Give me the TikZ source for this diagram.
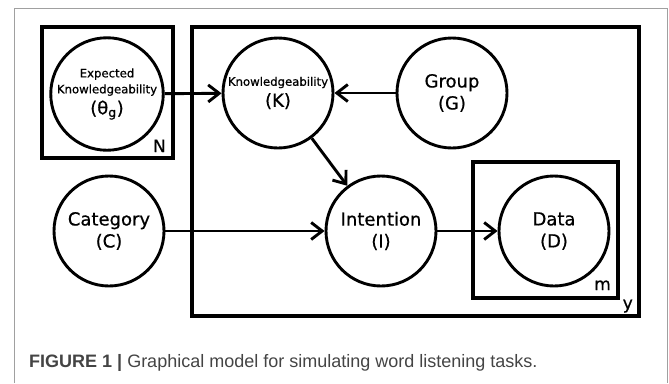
\documentclass[tikz,border=0pt]{standalone}
\usepackage{fontspec}
\setmainfont{DejaVu Sans}
\newfontfamily\medfont[FakeBold=0.7]{DejaVu Sans}
\newfontfamily\capfont{Liberation Sans}
\usetikzlibrary{positioning,arrows.meta}
\definecolor{capgray}{HTML}{444444}
\definecolor{framegray}{HTML}{A0A0A0}
\newcommand\smalltxt{\fontsize{11.7}{15}\selectfont\medfont}

\begin{document}
\begin{tikzpicture}[
  x=1pt, y=-1pt,
  varnode/.style={draw,circle,line width=2.9pt,minimum size=110pt,inner sep=0pt,align=center,font=\fontsize{18}{22}\selectfont\medfont},
  plate/.style={draw,line width=3.6pt},
  platelabel/.style={anchor=base east,inner sep=0pt,font=\fontsize{17}{17}\selectfont\medfont},
  myarrow/.style={line width=2.9pt,-{Straight Barb[length=11pt,width=17pt]}}
]
\useasboundingbox (0,0) rectangle (669,383);
\draw[framegray,line width=1pt] (14,383) -- (14,8) -- (667,8) -- (667,383);

% plates
\draw[plate] (42,27) rectangle (173,158);
\draw[plate] (192,27) rectangle (639,316);
\draw[plate] (473,162) rectangle (618,298);
\node[platelabel] (N) at (166,152) {N};
\node[platelabel] (y) at (633,309) {y};
\node[platelabel] (m) at (611,290) {m};

% variables
\node[varnode] (E) at (107,94) {\smalltxt Expected\\[-6pt]\smalltxt Knowledgeability\\[-1pt](θ\textsubscript{g})};
\node[varnode] (K) at (278,93) {\smalltxt Knowledgeability\\[-1pt](K)};
\node[varnode] (G) at (452,93) {Group\\(G)};
\node[varnode] (C) at (109,231) {Category\\(C)};
\node[varnode] (I) at (381,231) {Intention\\(I)};
\node[varnode] (D) at (554,231) {Data\\(D)};

\path (E) edge[myarrow] (K);
\path (G) edge[myarrow] (K);
\path (K) edge[myarrow] (I);
\path (C) edge[myarrow] (I);
\path (I) edge[myarrow] (D);

\node[anchor=base west,inner sep=0pt,text=capgray,font=\capfont\fontsize{18}{18}\selectfont] (cap) at (29,367) {\textbf{FIGURE 1 |} Graphical model for simulating word listening tasks.};
\end{tikzpicture}
\end{document}
